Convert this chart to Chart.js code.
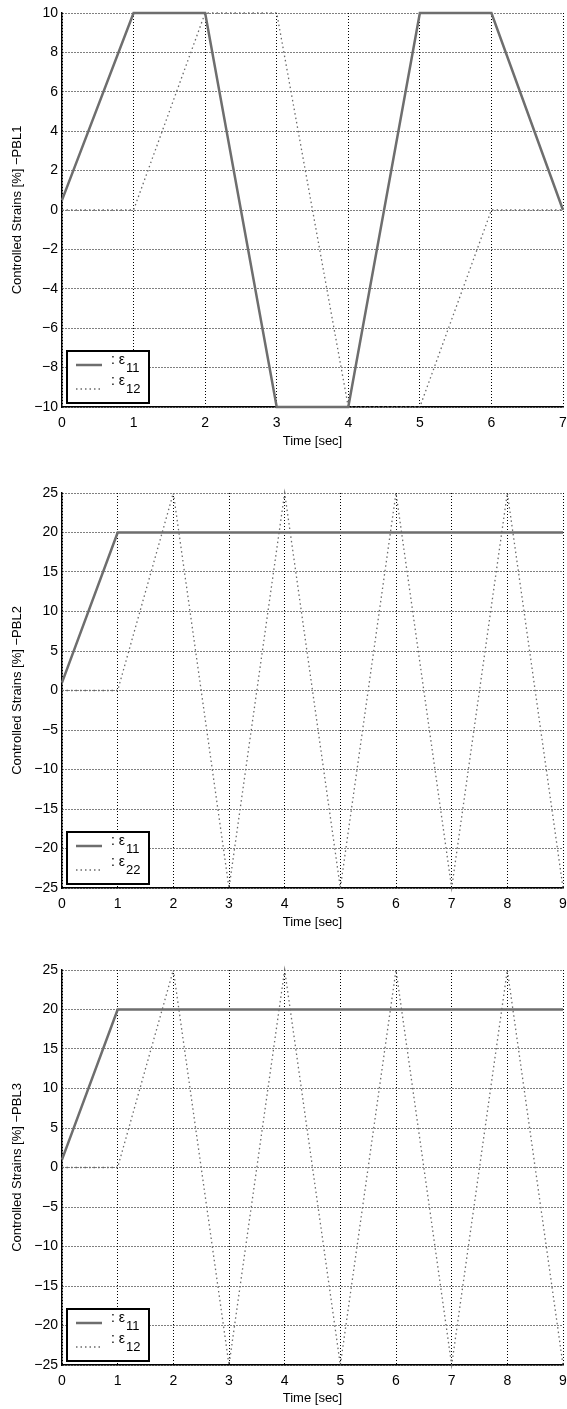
<!DOCTYPE html>
<html>
<head>
<meta charset="utf-8">
<script src="https://cdn.jsdelivr.net/npm/chart.js@4/dist/chart.umd.min.js"></script>
<style>
  body { margin: 0; background: #fff; width: 567px; height: 1409px; position: relative; overflow: hidden; }
  canvas { position: absolute; left: 0; }
</style>
</head>
<body>
<canvas id="chart1" width="567" height="460" style="top:0px"></canvas>
<canvas id="chart2" width="567" height="480" style="top:460px"></canvas>
<canvas id="chart3" width="567" height="469" style="top:940px"></canvas>
<script>
// PBL1
var pbl1Time = [0, 1, 2, 3, 4, 5, 6, 7];
var pbl1Eps11 = [0.5, 10, 10, -10, -10, 10, 10, 0];
var pbl1Eps12 = [0, 0, 10, 10, -10, -10, 0, 0];
var pbl1Subs = ['11', '12'];

// PBL2
var pbl2Time = [0, 1, 2, 3, 4, 5, 6, 7, 8, 9];
var pbl2Eps11 = [1, 20, 20, 20, 20, 20, 20, 20, 20, 20];
var pbl2Eps22 = [0, 0, 25, -25, 25, -25, 25, -25, 25, -25];
var pbl2Subs = ['11', '22'];

// PBL3
var pbl3Time = [0, 1, 2, 3, 4, 5, 6, 7, 8, 9];
var pbl3Eps11 = [1, 20, 20, 20, 20, 20, 20, 20, 20, 20];
var pbl3Eps12 = [0, 0, 25, -25, 25, -25, 25, -25, 25, -25];
var pbl3Subs = ['11', '12'];

var FONT = "'Liberation Sans', Arial, Helvetica, sans-serif";
var solidColor = '#6e6e6e';
var dotColor = '#6a6a6a';

function toPoints(xs, ys) {
    return xs.map((x, i) => ({x: x, y: ys[i]}));
}

function minusSign(v) {
    return String(v).replace('-', '\u2212');
}

// matlab style legend in the lower left corner
var strainLegend = {
    id: 'strainLegend',
    afterDraw(chart) {
        var subs = chart.options.plugins.strainLegend.subs;
        var ctx = chart.ctx;
        var a = chart.chartArea;
        var bx = a.left + 5, by = a.bottom - 56, bw = 82, bh = 52;
        ctx.save();
        ctx.fillStyle = '#fff';
        ctx.fillRect(bx, by, bw, bh);
        ctx.strokeStyle = '#000';
        ctx.lineWidth = 2;
        ctx.strokeRect(bx, by, bw, bh);

        // samples
        ctx.lineWidth = 2.5;
        ctx.strokeStyle = solidColor;
        ctx.beginPath();
        ctx.moveTo(bx + 9, by + 14);
        ctx.lineTo(bx + 35, by + 14);
        ctx.stroke();
        ctx.lineWidth = 1.3;
        ctx.strokeStyle = dotColor;
        ctx.setLineDash([1.5, 3]);
        ctx.beginPath();
        ctx.moveTo(bx + 9, by + 38);
        ctx.lineTo(bx + 35, by + 38);
        ctx.stroke();
        ctx.setLineDash([]);

        // labels
        ctx.fillStyle = '#000';
        ctx.textBaseline = 'alphabetic';
        ctx.textAlign = 'left';
        var rows = [13, 34];
        for (var i = 0; i < 2; i++) {
            ctx.font = '14px ' + FONT;
            ctx.fillText(': \u03b5', bx + 44, by + rows[i]);
            var w = ctx.measureText(': \u03b5').width;
            ctx.font = '13px ' + FONT;
            ctx.fillText(subs[i], bx + 45 + w, by + rows[i] + 8);
        }
        ctx.restore();
    }
};

function makeChart(id, time, s1, s2, subs, yMin, yMax, yStep, topPad, plotH, canvasH, titlePad, yTitle) {
    var ctx = document.getElementById(id).getContext('2d');
    return new Chart(ctx, {
        type: 'line',
        data: {
            datasets: [{
                label: '\u03b5' + subs[0],
                data: toPoints(time, s1),
                borderColor: solidColor,
                borderWidth: 2.5,
                pointRadius: 0,
                tension: 0,
                clip: false
            }, {
                label: '\u03b5' + subs[1],
                data: toPoints(time, s2),
                borderColor: dotColor,
                borderWidth: 1.3,
                borderDash: [1.5, 3],
                pointRadius: 0,
                tension: 0,
                clip: false
            }]
        },
        options: {
            responsive: false,
            animation: false,
            events: [],
            layout: {padding: {top: topPad, right: 4, left: 0, bottom: 0}},
            plugins: {
                legend: {display: false},
                tooltip: {enabled: false},
                strainLegend: {subs: subs}
            },
            scales: {
                x: {
                    type: 'linear',
                    min: time[0],
                    max: time[time.length - 1],
                    afterFit: function (scale) {
                        scale.height = canvasH - topPad - plotH;
                        scale.paddingLeft = 0;
                        scale.paddingRight = 0;
                    },
                    ticks: {
                        stepSize: 1,
                        color: '#000',
                        padding: 8,
                        maxRotation: 0,
                        font: {family: FONT, size: 14}
                    },
                    grid: {color: '#000', lineWidth: 1, drawTicks: false},
                    border: {color: '#000', width: 1.5, dash: [1, 2]},
                    title: {
                        display: true,
                        text: 'Time [sec]',
                        color: '#000',
                        font: {family: FONT, size: 13},
                        padding: {top: 0, bottom: titlePad}
                    }
                },
                y: {
                    type: 'linear',
                    min: yMin,
                    max: yMax,
                    afterFit: function (scale) { scale.width = 62; },
                    ticks: {
                        stepSize: yStep,
                        color: '#000',
                        padding: 4,
                        font: {family: FONT, size: 14},
                        callback: function (v) { return minusSign(v); }
                    },
                    grid: {color: '#000', lineWidth: 1, drawTicks: false},
                    border: {color: '#000', width: 1.5, dash: [1, 2]},
                    title: {
                        display: true,
                        text: yTitle,
                        color: '#000',
                        font: {family: FONT, size: 13},
                        padding: {top: 10, bottom: 0}
                    }
                }
            }
        },
        plugins: [strainLegend]
    });
}

makeChart('chart1', pbl1Time, pbl1Eps11, pbl1Eps12, pbl1Subs, -10, 10, 2, 13, 394, 460, 11,
    'Controlled Strains [%] \u2212PBL1');
makeChart('chart2', pbl2Time, pbl2Eps11, pbl2Eps22, pbl2Subs, -25, 25, 5, 33, 395, 480, 10,
    'Controlled Strains [%] \u2212PBL2');
makeChart('chart3', pbl3Time, pbl3Eps11, pbl3Eps12, pbl3Subs, -25, 25, 5, 30, 395, 469, 3,
    'Controlled Strains [%] \u2212PBL3');
</script>
</body>
</html>
